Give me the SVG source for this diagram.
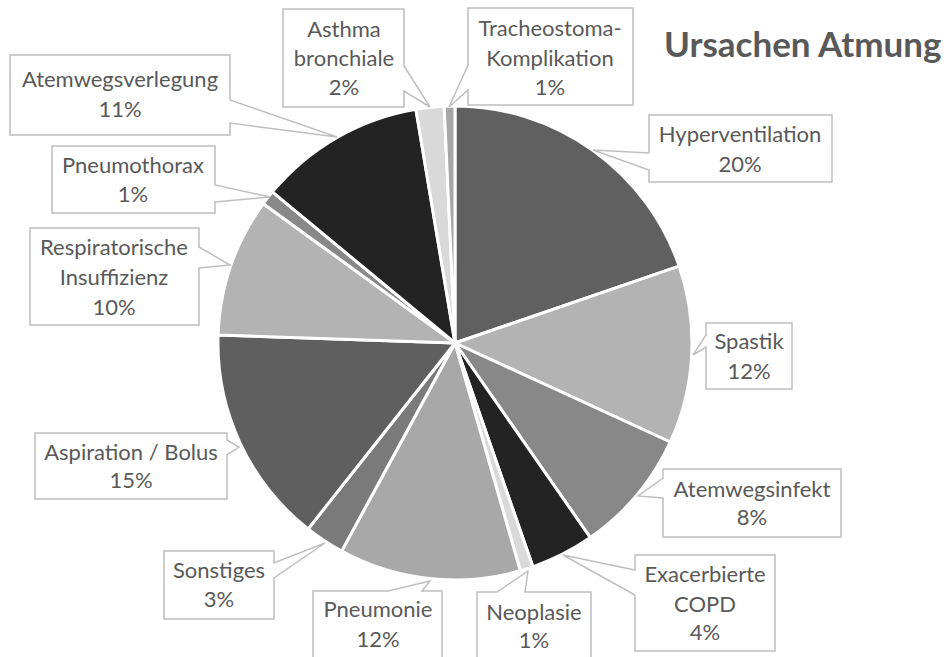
<svg xmlns="http://www.w3.org/2000/svg" width="944" height="657" viewBox="0 0 944 657">
<style>
.s{stroke:#fff;stroke-width:3;stroke-linejoin:round}
.c{fill:#fff;stroke:#bfbfbf;stroke-width:1.5}
.t{font-family:Lato,"Liberation Sans",sans-serif;font-size:22px;fill:#595959;text-anchor:middle}
.h{font-family:Lato,"Liberation Sans",sans-serif;font-size:35px;font-weight:bold;fill:#595959}
</style>
<rect width="944" height="657" fill="#fff"/>
<g id="pie">
<path class="s" fill="#606060" d="M455,343 L455,106 A237,237 0 0 1 679.2,266.2 Z"/>
<path class="s" fill="#b3b3b3" d="M455,343 L679.2,266.2 A237,237 0 0 1 670.3,442 Z"/>
<path class="s" fill="#888888" d="M455,343 L670.3,442 A237,237 0 0 1 590.3,537.6 Z"/>
<path class="s" fill="#232323" d="M455,343 L590.3,537.6 A237,237 0 0 1 532.9,566.8 Z"/>
<path class="s" fill="#d9d9d9" d="M455,343 L532.9,566.8 A237,237 0 0 1 520.3,570.8 Z"/>
<path class="s" fill="#a8a8a8" d="M455,343 L520.3,570.8 A237,237 0 0 1 341.6,551.1 Z"/>
<path class="s" fill="#7a7a7a" d="M455,343 L341.6,551.1 A237,237 0 0 1 308.1,529 Z"/>
<path class="s" fill="#5f5f5f" d="M455,343 L308.1,529 A237,237 0 0 1 218.1,335.1 Z"/>
<path class="s" fill="#b3b3b3" d="M455,343 L218.1,335.1 A237,237 0 0 1 263.3,203.7 Z"/>
<path class="s" fill="#888888" d="M455,343 L263.3,203.7 A237,237 0 0 1 272.4,191.9 Z"/>
<path class="s" fill="#232323" d="M455,343 L272.4,191.9 A237,237 0 0 1 415.9,109.2 Z"/>
<path class="s" fill="#d9d9d9" d="M455,343 L415.9,109.2 A237,237 0 0 1 444.2,106.2 Z"/>
<path class="s" fill="#a6a6a6" d="M455,343 L444.2,106.2 A237,237 0 0 1 455,106 Z"/>
</g>
<g id="connectors"></g>
<g id="title"><text class="h" x="664" y="57">Ursachen Atmung</text></g>
<g id="asthma"><path class="c" d="M283,9 H404 V66 L430,107 L404,91 V107 H283 Z"/>
<text class="t" x="344" y="37">Asthma</text><text class="t" x="344" y="66">bronchiale</text><text class="t" x="344" y="95">2%</text></g>
<g id="tracheostoma"><path class="c" d="M468,8 H633 V105 H468 V90 L449,107 L468,65 Z"/>
<text class="t" x="550" y="36">Tracheostoma-</text><text class="t" x="550" y="66">Komplikation</text><text class="t" x="550" y="95">1%</text></g>
<g id="verlegung"><path class="c" d="M10,55 H230 V100 L337,137 L230,123 V135 H10 Z"/>
<text class="t" x="120" y="87">Atemwegsverlegung</text><text class="t" x="120" y="117">11%</text></g>
<g id="hyper"><path class="c" d="M649,115 H832 V182 H649 V170 L593,150 L649,153 Z"/>
<text class="t" x="740" y="142">Hyperventilation</text><text class="t" x="740" y="172">20%</text></g>
<g id="pneumothorax"><path class="c" d="M52,146 H215 V185 L270,197 L215,202 V213 H52 Z"/>
<text class="t" x="133" y="173">Pneumothorax</text><text class="t" x="133" y="202">1%</text></g>
<g id="resp"><path class="c" d="M30,228 H199 V247 L230,265 L199,268 V325 H30 Z"/>
<text class="t" x="114" y="255">Respiratorische</text><text class="t" x="114" y="285">Insuffizienz</text><text class="t" x="114" y="315">10%</text></g>
<g id="spastik"><path class="c" d="M706,323 H792 V389 H706 V347 L693,355 L706,335 Z"/>
<text class="t" x="749" y="349">Spastik</text><text class="t" x="749" y="379">12%</text></g>
<g id="aspiration"><path class="c" d="M35,433 H227 V440 L239,447 L227,455 V499 H35 Z"/>
<text class="t" x="131" y="460">Aspiration / Bolus</text><text class="t" x="131" y="488">15%</text></g>
<g id="infekt"><path class="c" d="M663,469 H841 V537 H663 V498 L638,496 L663,478 Z"/>
<text class="t" x="752" y="497">Atemwegsinfekt</text><text class="t" x="752" y="525">8%</text></g>
<g id="sonstiges"><path class="c" d="M164,551 H274 V563 L325,543 L274,578 V619 H164 Z"/>
<text class="t" x="219" y="578">Sonstiges</text><text class="t" x="219" y="607">3%</text></g>
<g id="pneumonie"><path class="c" d="M313,591 H388 L430,581 L422,591 H442 V662 H313 Z"/>
<text class="t" x="378" y="617">Pneumonie</text><text class="t" x="378" y="647">12%</text></g>
<g id="neoplasie"><path class="c" d="M477,592 H497 L528,571 L525,592 H591 V662 H477 Z"/>
<text class="t" x="534" y="620">Neoplasie</text><text class="t" x="534" y="648">1%</text></g>
<g id="copd"><path class="c" d="M635,555 H775 V651 H635 V595 L563,555 L635,570 Z"/>
<text class="t" x="705" y="582">Exacerbierte</text><text class="t" x="705" y="612">COPD</text><text class="t" x="705" y="640">4%</text></g>
</svg>
